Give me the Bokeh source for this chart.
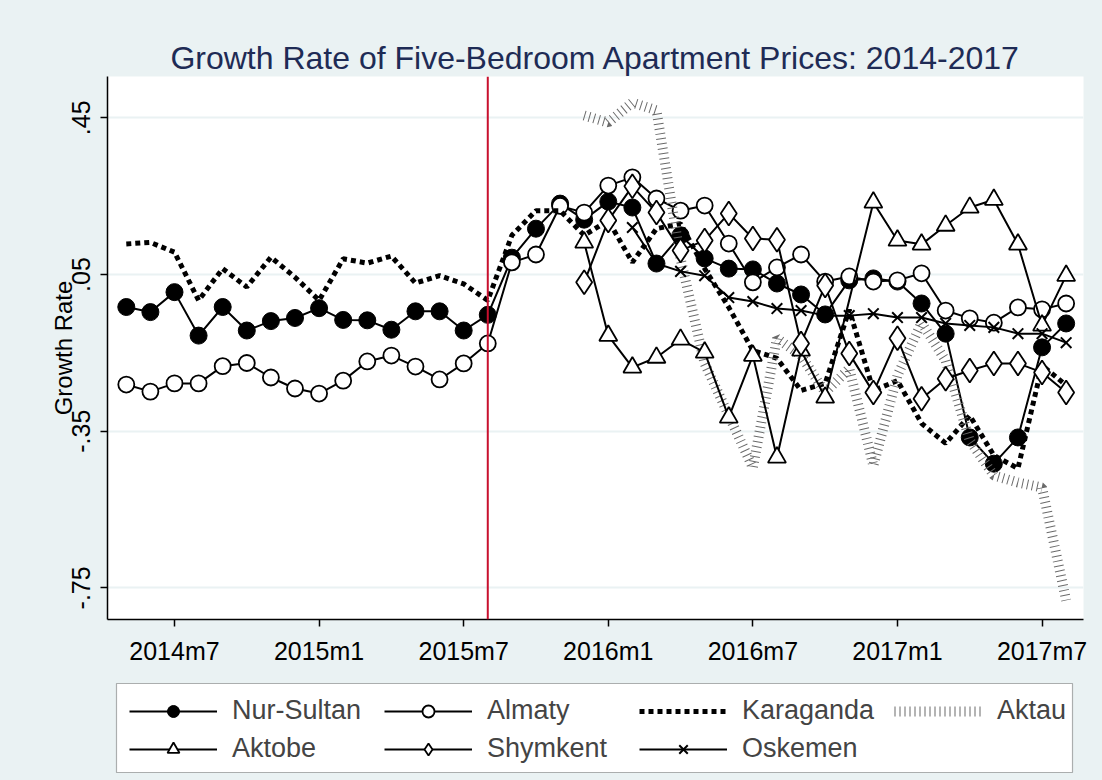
import numpy as np
from bokeh.plotting import figure
from bokeh.layouts import column
from bokeh.models import FixedTicker, Span, Legend, LegendItem, Range1d, BoxAnnotation
from bokeh.embed import file_html
from bokeh.resources import INLINE

# ---------------- data ----------------
months = []
_y, _m = 2014, 5
for _ in range(40):
    months.append(f"{_y}m{_m}")
    _m += 1
    if _m > 12:
        _m, _y = 1, _y + 1

tick_labels = ["2014m7", "2015m1", "2015m7", "2016m1", "2016m7", "2017m1", "2017m7"]
y_ticks = [0.45, 0.05, -0.35, -0.75]
y_tick_labels = [".45", ".05", "-.35", "-.75"]
event_month = "2015m8"

N = None
nur_sultan = [-0.033, -0.046, 0.005, -0.106, -0.033, -0.093, -0.069, -0.061, -0.036, -0.066,
              -0.067, -0.091, -0.044, -0.044, -0.093, -0.053, 0.093, 0.167, 0.231, 0.190,
              0.236, 0.221, 0.078, 0.150, 0.091, 0.065, 0.063, 0.027, -0.001, -0.052,
              0.035, 0.040, 0.032, -0.024, -0.101, -0.366, -0.433, -0.366, -0.136, -0.075]
almaty = [-0.231, -0.249, -0.228, -0.228, -0.184, -0.176, -0.213, -0.241, -0.254, -0.221,
          -0.172, -0.157, -0.185, -0.218, -0.177, -0.126, 0.081, 0.101, 0.225, 0.208,
          0.277, 0.298, 0.244, 0.213, 0.226, 0.129, 0.030, 0.068, 0.101, 0.032,
          0.045, 0.032, 0.035, 0.053, -0.042, -0.062, -0.073, -0.034, -0.039, -0.024]
karaganda = [0.128, 0.132, 0.107, -0.016, 0.065, 0.018, 0.094, 0.043, -0.016, 0.090,
             0.079, 0.097, 0.028, 0.047, 0.026, -0.016, 0.150, 0.213, 0.213, 0.150,
             0.188, 0.081, 0.167, 0.180, 0.065, -0.034, -0.144, -0.164, -0.246, -0.228,
             -0.040, -0.246, -0.221, -0.330, -0.381, -0.310, -0.412, -0.445, -0.182, -0.233]
aktau = [N, N, N, N, N, N, N, N, N, N,
         N, N, N, N, N, N, N, N, N, 0.456,
         0.438, 0.489, 0.469, 0.090, -0.177, -0.310, -0.443, -0.113, -0.157, -0.251,
         -0.190, -0.438, -0.208, -0.073, -0.170, -0.374, -0.463, -0.481, -0.494, -0.782]
aktobe = [N, N, N, N, N, N, N, N, N, N,
          N, N, N, N, N, N, N, N, N, 0.132,
          -0.106, -0.187, -0.162, -0.116, -0.149, -0.315, -0.157, -0.417, -0.144, -0.264,
          N, 0.234, 0.137, 0.127, 0.175, 0.221, 0.241, 0.127, -0.080, 0.047]
shymkent = [N, N, N, N, N, N, N, N, N, N,
            N, N, N, N, N, N, N, N, N, 0.030,
            0.188, 0.275, 0.208, 0.111, 0.137, 0.206, 0.142, 0.139, -0.126, 0.022,
            -0.152, -0.251, -0.113, -0.267, -0.216, -0.195, -0.177, -0.177, -0.200, -0.251]
oskemen = [N, N, N, N, N, N, N, N, N, N,
           N, N, N, N, N, N, N, N, N, N,
           N, 0.170, 0.078, 0.058, 0.047, -0.009, -0.019, -0.037, -0.042, -0.055,
           -0.055, -0.050, -0.060, -0.060, -0.075, -0.080, -0.085, -0.101, -0.101, -0.124]

series = [
    ("Nur-Sultan", nur_sultan),
    ("Almaty", almaty),
    ("Karaganda", karaganda),
    ("Aktau", aktau),
    ("Aktobe", aktobe),
    ("Shymkent", shymkent),
    ("Oskemen", oskemen),
]

# ---------------- styles ----------------
FONT = "Liberation Sans"
BG = "#EAF2F3"
LW = 2
styles = {
    "Nur-Sultan": dict(line=dict(line_color="black", line_width=LW),
                       marker=dict(marker="circle", size=17, fill_color="black", line_color="black")),
    "Almaty": dict(line=dict(line_color="black", line_width=LW),
                   marker=dict(marker="circle", size=16, fill_color="white", line_color="black", line_width=1.8)),
    "Karaganda": dict(line=dict(line_color="black", line_width=5, line_dash="5 4"), marker=None),
    "Aktau": dict(line=dict(line_color="#6A6A6A", line_width=10, line_dash="1 4"), marker=None),
    "Aktobe": dict(line=dict(line_color="black", line_width=LW),
                   marker=dict(marker="triangle", size=18, fill_color="white", line_color="black", line_width=1.8)),
    "Shymkent": dict(line=dict(line_color="black", line_width=LW),
                     marker=dict(marker="diamond", size=24, fill_color="white", line_color="black", line_width=1.8)),
    "Oskemen": dict(line=dict(line_color="black", line_width=LW),
                    marker=dict(marker="x", size=15, line_color="black", line_width=2)),
}

# ---------------- main figure ----------------
x_all = list(range(len(months)))
p = figure(width=1102, height=676, output_backend="svg", toolbar_location=None,
           x_range=Range1d(-0.78, 39.72), y_range=Range1d(-0.8308, 0.5555),
           min_border_left=107, min_border_right=19, min_border_top=76, min_border_bottom=57)
p.background_fill_color = "white"
p.border_fill_color = BG
p.outline_line_color = None

p.title.text = "Growth Rate of Five-Bedroom Apartment Prices: 2014-2017"
p.title.text_font = FONT
p.title.text_font_size = "32px"
p.title.text_font_style = "normal"
p.title.text_color = "#1E2B55"
p.title.align = "center"
p.title.standoff = 2

p.xgrid.grid_line_color = None
p.ygrid.grid_line_color = BG
p.ygrid.grid_line_width = 2
p.ygrid.ticker = FixedTicker(ticks=y_ticks)

xa = p.xaxis[0]
xa.ticker = FixedTicker(ticks=[months.index(t) for t in tick_labels])
xa.major_label_overrides = {months.index(t): t for t in tick_labels}
ya = p.yaxis[0]
ya.ticker = FixedTicker(ticks=y_ticks)
ya.major_label_overrides = {v: s for v, s in zip(y_ticks, y_tick_labels)}
ya.major_label_orientation = "vertical"
ya.axis_label = "Growth Rate"
ya.axis_label_text_font_style = "normal"
ya.axis_label_text_font_size = "24px"
ya.axis_label_text_font = FONT
ya.axis_label_text_color = "black"
ya.axis_label_standoff = -7
for ax in (xa, ya):
    ax.axis_line_color = "black"
    ax.axis_line_width = 1.5
    ax.major_tick_line_color = "black"
    ax.major_tick_line_width = 1.5
    ax.major_tick_out = 7
    ax.major_tick_in = 0
    ax.minor_tick_line_color = None
    ax.major_label_text_font = FONT
    ax.major_label_text_font_size = "25px"
    ax.major_label_text_color = "black"
xa.major_label_standoff = 10
ya.major_label_standoff = 10

p.add_layout(Span(location=months.index(event_month), dimension="height",
                  line_color="#C8102E", line_width=2))


def clean(vals):
    xs = [xi for xi, v in zip(x_all, vals) if v is not None]
    ys = [v for v in vals if v is not None]
    return xs, ys


for name, vals in series:
    xs, ys = clean(vals)
    st = styles[name]
    p.line(xs, ys, **st["line"])
    if st["marker"]:
        p.scatter(xs, ys, **st["marker"])

# ---------------- legend strip (second figure, same frame columns) ----------------
# its ranges are in page pixels so the legend box can be placed exactly; the series
# renderers it carries (for the legend keys) therefore fall outside its view.
q = figure(width=1102, height=104, output_backend="svg", toolbar_location=None,
           x_axis_type=None, y_axis_type=None,
           x_range=Range1d(107, 1083), y_range=Range1d(780, 676),
           min_border_left=107, min_border_right=19, min_border_top=0, min_border_bottom=0)
q.background_fill_color = BG
q.border_fill_color = BG
q.outline_line_color = None
q.grid.grid_line_color = None
q.add_layout(BoxAnnotation(left=116, right=1072, top=683, bottom=772,
                           fill_color="white", fill_alpha=1.0,
                           line_color="black", line_width=1.2, level="underlay"))

legend_items = {}
for name, vals in series:
    xs, ys = clean(vals)
    st = styles[name]
    rs = [q.line(xs, ys, **st["line"])]
    if st["marker"]:
        rs.append(q.scatter(xs, ys, **st["marker"]))
    legend_items[name] = LegendItem(label=name, renderers=rs)

rows = [["Nur-Sultan", "Almaty", "Karaganda", "Aktau"],
        ["Aktobe", "Shymkent", "Oskemen"]]
row_pos = [(22, 54), (22, 16)]
for names, loc in zip(rows, row_pos):
    lg = Legend(items=[legend_items[n] for n in names], location=loc, orientation="horizontal",
                label_text_font=FONT, label_text_font_size="27px", label_width=134,
                glyph_width=88, glyph_height=30, label_standoff=15, spacing=18,
                padding=0, margin=0, border_line_color=None, background_fill_alpha=0.0)
    q.add_layout(lg, "center")

layout = column(p, q, spacing=0, styles={"background-color": BG})
open("out.html", "w").write(file_html(layout, INLINE))
